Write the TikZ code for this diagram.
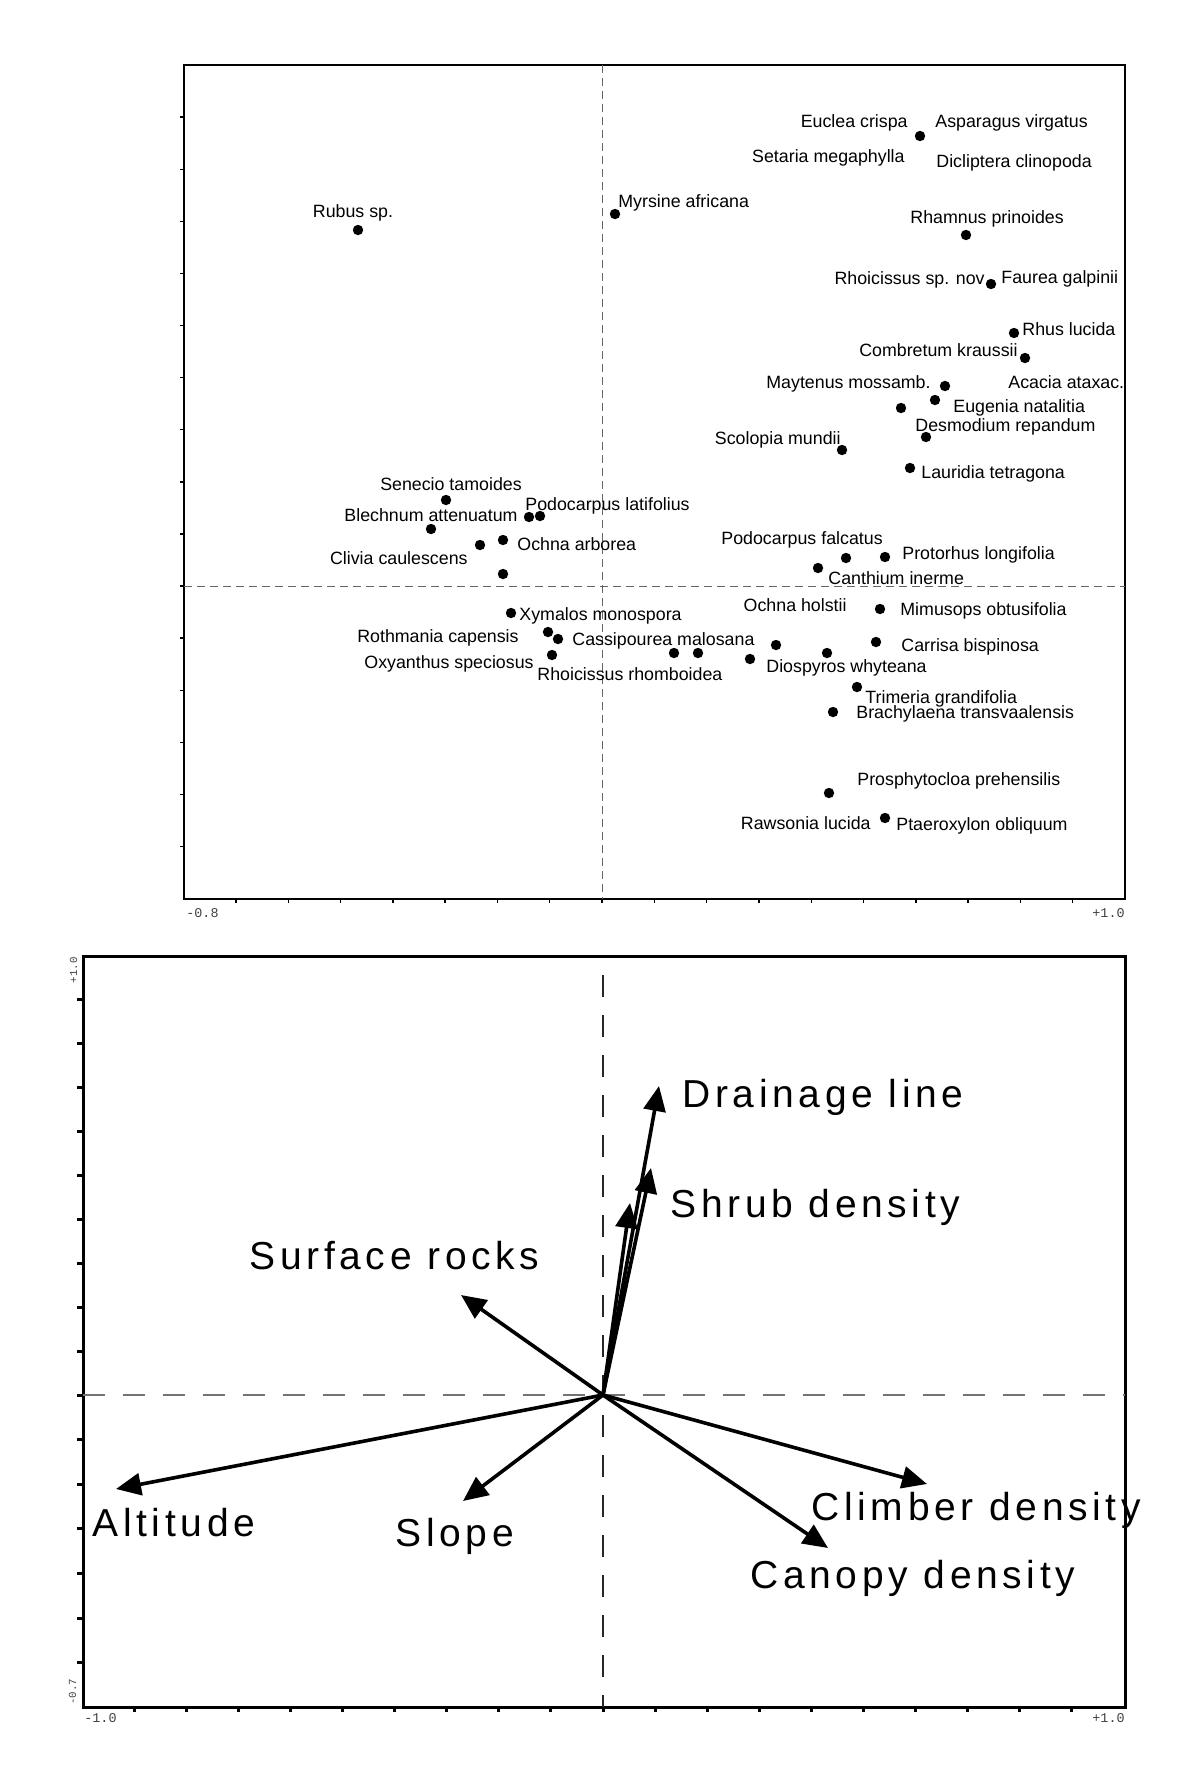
\documentclass[tikz,border=0pt]{standalone}
\usepackage{fontspec}
\setmainfont{Liberation Sans}
\setmonofont{Liberation Mono}
\newfontfamily\vecfont[LetterSpace=12]{Liberation Sans}
\usetikzlibrary{arrows.meta}

\begin{document}
\begin{tikzpicture}[
  x=0.5pt, y=-0.5pt,
  dot/.style={circle, fill, inner sep=0pt, minimum size=5.2pt},
  sp/.style={inner sep=0pt, font=\fontsize{8.9}{10}\selectfont},
  axnum/.style={inner sep=0pt, text=black!75, font=\ttfamily\fontsize{6.7}{7}\selectfont},
  zero/.style={black!60, line width=0.5pt, dash pattern=on 4pt off 2.5pt},
  zerob/.style={line width=0.6pt, dash pattern=on 11pt off 9pt},
  vec/.style={line width=1.8pt, -{Triangle[length=12.5pt, width=11pt]}},
  veclbl/.style={inner sep=0pt, font=\vecfont\fontsize{19.5}{22}\selectfont}
]
\useasboundingbox (0,0) rectangle (1197,1773);

% ---- species plot ----
\draw[line width=0.7pt] (184,65) rectangle (1125,899);
\draw[line width=1pt] (184,65) -- (184,899) -- (1125,899);
\draw[zero] (602,65) -- (602,899);
\draw[zero] (184,586) -- (1125,586);
\foreach \k in {-5,...,9} \draw[line width=0.7pt] (184,{586-52.1*\k}) -- ++(-4,0);
\foreach \k in {-7,...,9} \draw[line width=0.7pt] ({602+52.3*\k},899) -- ++(0,4);
\node[axnum, anchor=base west] (xmin) at (186,917) {-0.8};
\node[axnum, anchor=base east] (xmax) at (1125,917) {+1.0};

% upper right group
\node[dot] (eucl) at (920,136) {};
\node[sp, anchor=base east] (euclL) at (908,127) {Euclea crispa};
\node[sp, anchor=base west] (aspaL) at (935,127) {Asparagus virgatus};
\node[sp, anchor=base east] (setaL) at (905,162) {Setaria megaphylla};
\node[sp, anchor=base west] (dicliL) at (936,167) {Dicliptera clinopoda};
\node[dot] (myrs) at (615,214) {};
\node[sp, anchor=base west] (myrsL) at (618,207) {Myrsine africana};
\node[dot] (rubus) at (358,230) {};
\node[sp, anchor=base] (rubusL) at (353,217) {Rubus sp.};
\node[dot] (rham) at (966,235) {};
\node[sp, anchor=base west] (rhamL) at (910,223) {Rhamnus prinoides};
\node[dot] (faur) at (991,284) {};
\node[sp, anchor=base east] (rhoiL) at (985,284) {Rhoicissus sp. nov};
\node[sp, anchor=base west] (faurL) at (1001,283) {Faurea galpinii};
\node[dot] (rhus) at (1014,333) {};
\node[sp, anchor=base west] (rhusL) at (1022,335) {Rhus lucida};
\node[dot] (comb) at (1025,358) {};
\node[sp, anchor=base east] (combL) at (1018,356) {Combretum kraussii};
\node[sp, anchor=base west] (acacL) at (1008,388) {Acacia ataxac.};
\node[dot] (mayt) at (945,386) {};
\node[sp, anchor=base east] (maytL) at (931,388) {Maytenus mossamb.};
\node[dot] (euge) at (935,400) {};
\node[sp, anchor=base west] (eugeL) at (953,412) {Eugenia natalitia};
\node[dot] (u1) at (901,408) {};
\node[dot] (desm) at (926,437) {};
\node[sp, anchor=base west] (desmL) at (915,431) {Desmodium repandum};
\node[dot] (scol) at (842,450) {};
\node[sp, anchor=base east] (scolL) at (841,444) {Scolopia mundii};
\node[dot] (laur) at (910,468) {};
\node[sp, anchor=base west] (laurL) at (921,478) {Lauridia tetragona};

% left group
\node[dot] (sene) at (446,500) {};
\node[sp, anchor=base] (seneL) at (451,490) {Senecio tamoides};
\node[dot] (blech) at (431,529) {};
\node[sp, anchor=base east] (blechL) at (518,521) {Blechnum attenuatum};
\node[dot] (podl1) at (529,517) {};
\node[dot] (podl2) at (540,516) {};
\node[sp, anchor=base west] (podlL) at (525,510) {Podocarpus latifolius};
\node[dot] (ochA) at (503,540) {};
\node[sp, anchor=base west] (ochAL) at (517,550) {Ochna arborea};
\node[dot] (cliv) at (480,545) {};
\node[sp, anchor=base east] (clivL) at (468,564) {Clivia caulescens};
\node[dot] (u2) at (503,574) {};
\node[dot] (xyma) at (511,613) {};
\node[sp, anchor=base west] (xymaL) at (519,620) {Xymalos monospora};
\node[dot] (roth) at (548,632) {};
\node[dot] (cass) at (558,639) {};
\node[sp, anchor=base east] (rothL) at (519,642) {Rothmania capensis};
\node[sp, anchor=base west] (cassL) at (572,645) {Cassipourea malosana};
\node[dot] (oxya) at (552,655) {};
\node[sp, anchor=base east] (oxyaL) at (534,668) {Oxyanthus speciosus};
\node[sp, anchor=base west] (rhomL) at (537,680) {Rhoicissus rhomboidea};

% lower right group
\node[dot] (u3) at (674,653) {};
\node[dot] (u4) at (698,653) {};
\node[dot] (dios) at (750,659) {};
\node[dot] (ochH) at (776,645) {};
\node[dot] (u5) at (827,653) {};
\node[dot] (carr) at (876,642) {};
\node[dot] (mimu) at (880,609) {};
\node[dot] (canth) at (818,568) {};
\node[dot] (podf) at (846,558) {};
\node[dot] (prot) at (885,557) {};
\node[dot] (trim) at (857,687) {};
\node[dot] (brach) at (833,712) {};
\node[dot] (pros) at (829,793) {};
\node[dot] (ptae) at (885,818) {};
\node[sp, anchor=base west] (podfL) at (721,544) {Podocarpus falcatus};
\node[sp, anchor=base west] (protL) at (902,559) {Protorhus longifolia};
\node[sp, anchor=base west] (canthL) at (828,584) {Canthium inerme};
\node[sp, anchor=base east] (ochHL) at (847,611) {Ochna holstii};
\node[sp, anchor=base west] (mimuL) at (900,615) {Mimusops obtusifolia};
\node[sp, anchor=base west] (carrL) at (901,651) {Carrisa bispinosa};
\node[sp, anchor=base west] (diosL) at (766,672) {Diospyros whyteana};
\node[sp, anchor=base west] (trimL) at (865,703) {Trimeria grandifolia};
\node[sp, anchor=base west] (brachL) at (856,718) {Brachylaena transvaalensis};
\node[sp, anchor=base west] (prosL) at (857,785) {Prosphytocloa prehensilis};
\node[sp, anchor=base east] (rawsL) at (871,829) {Rawsonia lucida};
\node[sp, anchor=base west] (ptaeL) at (896,830) {Ptaeroxylon obliquum};

% ---- environmental biplot ----
\draw[line width=1.5pt] (83,956) rectangle (1125,1707);
\draw[zerob, black!85] (603,975) -- (603,1707);
\draw[zerob, black!55] (83,1395) -- (1125,1395);
\foreach \k in {1,...,9} \draw[line width=1.5pt] (83,{1395-43.9*\k}) -- ++(-6,0);
\foreach \k in {0,...,6} \draw[line width=1.5pt] (83,{1395+44.6*\k}) -- ++(-6,0);
\foreach \k in {-9,...,9} \draw[line width=1.5pt] ({603+52.1*\k},1707) -- ++(0,5);
\node[axnum, anchor=base west] (bxmin) at (84,1722) {-1.0};
\node[axnum, anchor=base east] (bxmax) at (1125,1722) {+1.0};
\node[axnum, rotate=90, anchor=base east, font=\ttfamily\fontsize{5.4}{6}\selectfont] (bymax) at (77,957) {+1.0};
\node[axnum, rotate=90, anchor=base west, font=\ttfamily\fontsize{5.4}{6}\selectfont] (bymin) at (76,1705) {-0.7};

\coordinate (o) at (603,1395);
\coordinate (drain) at (659,1086);
\coordinate (shrub) at (651,1168);
\coordinate (third) at (630,1203);
\coordinate (rocks) at (461,1295);
\coordinate (alti) at (116,1489);
\coordinate (slope) at (463,1501);
\coordinate (climb) at (927,1484);
\coordinate (canopy) at (828,1548);
\foreach \t in {drain,shrub,third,rocks,alti,slope,climb,canopy}
  \draw[vec] (o) -- (\t);

\node[veclbl, anchor=base west] (drainL) at (682,1107) {Drainage line};
\node[veclbl, anchor=base west] (shrubL) at (670,1217) {Shrub density};
\node[veclbl, anchor=base west] (rocksL) at (249,1269) {Surface rocks};
\node[veclbl, anchor=base west] (altiL) at (92,1536) {Altitude};
\node[veclbl, anchor=base west] (slopeL) at (395,1546) {Slope};
\node[veclbl, anchor=base west] (climbL) at (811,1520) {Climber density};
\node[veclbl, anchor=base west] (canopyL) at (750,1588) {Canopy density};
\end{tikzpicture}
\end{document}
